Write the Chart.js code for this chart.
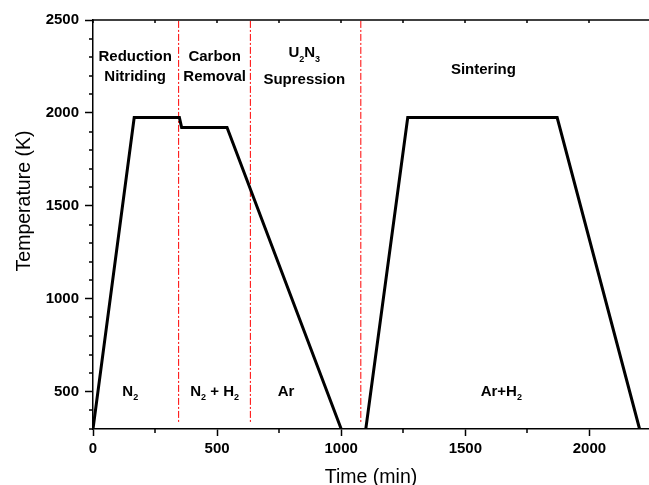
<!DOCTYPE html>
<html>
<head>
<meta charset="utf-8">
<script src="https://cdn.jsdelivr.net/npm/chart.js@4/dist/chart.umd.min.js"></script>
<style>
  html, body { margin: 0; padding: 0; background: #fff; }
  canvas { display: block; }
</style>
</head>
<body>
<canvas id="profil" width="649" height="485"></canvas>
<script>
// ---------------------- Donnees ----------------------
// profil de temperature (null = coupure entre les deux cycles)
const tempsMin = [0, 166, 348, 357, 540, 1000, null, 1099, 1268, 1870, 2202];
const tempK    = [300, 1975, 1975, 1922, 1922, 300, null, 300, 1975, 1975, 300];

// limites des etapes (lignes rouges)
const limitesEtapes = [345, 634, 1079];

// graduations
const xTicks = [0, 500, 1000, 1500, 2000];
const yTicks = [500, 1000, 1500, 2000, 2500];

// textes des etapes (morceaux : [texte, indice?])
const etiquettes = [
    [['Reduction']],
    [['Nitriding']],
    [['Carbon']],
    [['Removal']],
    [['U'], ['2', true], ['N'], ['3', true]],
    [['Supression']],
    [['Sintering']],
    [['N'], ['2', true]],
    [['N'], ['2', true], [' + H'], ['2', true]],
    [['Ar']],
    [['Ar+H'], ['2', true]]
];
// ancrage des textes en unites des axes (min, K)
const etiquettesX = [170, 170, 490, 490, 851, 851, 1573, 150, 490, 778, 1645];
const etiquettesY = [2302, 2195, 2302, 2195, 2322, 2180, 2231, 500, 500, 500, 500];

// ---------------------- Construction ----------------------
const profilPoints = tempsMin.map((t, i) => t === null ? {x: null, y: null} : {x: t, y: tempK[i]});

const datasets = [{
    label: 'Temperature',
    data: profilPoints,
    borderColor: '#000',
    borderWidth: 3,
    pointRadius: 0,
    tension: 0,
    spanGaps: false,
    order: 0
}];
limitesEtapes.forEach(function (t) {
    datasets.push({
        data: [{x: t, y: 2495}, {x: t, y: 328}],
        borderColor: '#ff0000',
        borderWidth: 1,
        borderDash: [7, 2, 2, 2],
        pointRadius: 0,
        order: 1
    });
});

const police = '"Liberation Sans", Arial, sans-serif';

function dessinerRiche(ctx, morceaux, cx, cy) {
    const fontN = 'bold 15px ' + police;
    const fontS = 'bold 9px ' + police;
    let largeur = 0;
    morceaux.forEach(m => {
        ctx.font = m[1] ? fontS : fontN;
        largeur += ctx.measureText(m[0]).width;
    });
    let x = cx - largeur / 2;
    ctx.textBaseline = 'middle';
    ctx.textAlign = 'left';
    morceaux.forEach(m => {
        ctx.font = m[1] ? fontS : fontN;
        ctx.fillText(m[0], x, m[1] ? cy + 6 : cy);
        x += ctx.measureText(m[0]).width;
    });
}

const cadrePlugin = {
    id: 'cadre',
    afterDraw(chart) {
        const ctx = chart.ctx;
        const area = chart.chartArea;
        const xs = chart.scales.x;
        const ys = chart.scales.y;
        ctx.save();
        ctx.strokeStyle = '#000';
        ctx.fillStyle = '#000';
        ctx.lineWidth = 1.5;

        // axe du haut
        ctx.beginPath();
        ctx.moveTo(area.left, area.top);
        ctx.lineTo(area.right, area.top);
        ctx.stroke();

        // graduations secondaires x (bas, vers l'exterieur ; haut, vers l'interieur)
        ctx.beginPath();
        for (let t = 0; t <= 2240; t += 250) {
            const px = Math.round(xs.getPixelForValue(t));
            if (t % 500 !== 0) {
                ctx.moveTo(px, area.bottom);
                ctx.lineTo(px, area.bottom + 4);
            }
            ctx.moveTo(px, area.top);
            ctx.lineTo(px, area.top + 3);
        }
        // graduations secondaires y (vers l'exterieur)
        for (let v = 300; v <= 2500; v += 100) {
            if (v % 500 === 0) continue;
            const py = Math.round(ys.getPixelForValue(v));
            ctx.moveTo(area.left, py);
            ctx.lineTo(area.left - 4, py);
        }
        ctx.stroke();

        // textes des etapes
        etiquettes.forEach((morceaux, i) => {
            dessinerRiche(ctx, morceaux, xs.getPixelForValue(etiquettesX[i]), ys.getPixelForValue(etiquettesY[i]));
        });

        // titres des axes
        ctx.font = '19.5px ' + police;
        ctx.textAlign = 'center';
        ctx.textBaseline = 'alphabetic';
        ctx.fillText('Time (min)', (area.left + area.right) / 2, 483);
        ctx.translate(30, area.top + 181);
        ctx.rotate(-Math.PI / 2);
        ctx.fillText('Temperature (K)', 0, 0);
        ctx.restore();
    }
};

new Chart(document.getElementById('profil'), {
    type: 'scatter',
    data: { datasets: datasets },
    options: {
        responsive: false,
        animation: false,
        showLine: true,
        layout: { padding: { top: 20, right: 0, left: 0, bottom: 0 } },
        plugins: {
            legend: { display: false },
            tooltip: { enabled: false }
        },
        scales: {
            x: {
                type: 'linear',
                min: 0,
                max: 2240,
                afterBuildTicks: scale => { scale.ticks = xTicks.map(v => ({value: v})); },
                afterFit: scale => { scale.height = 56; },
                grid: { drawOnChartArea: false, drawTicks: true, tickLength: 7, tickColor: '#000', tickWidth: 1.5 },
                border: { display: true, color: '#000', width: 1.5 },
                ticks: { color: '#000', font: { family: police, size: 15, weight: 'bold' }, padding: 4, maxRotation: 0,
                         callback: v => String(v) }
            },
            y: {
                type: 'linear',
                min: 300,
                max: 2500,
                afterBuildTicks: scale => { scale.ticks = yTicks.map(v => ({value: v})); },
                afterFit: scale => { scale.width = 93; },
                grid: { drawOnChartArea: false, drawTicks: true, tickLength: 8, tickColor: '#000', tickWidth: 1.5 },
                border: { display: true, color: '#000', width: 1.5 },
                ticks: { color: '#000', font: { family: police, size: 15, weight: 'bold' }, padding: 6,
                         callback: v => String(v) }
            }
        }
    },
    plugins: [cadrePlugin]
});
</script>
</body>
</html>
